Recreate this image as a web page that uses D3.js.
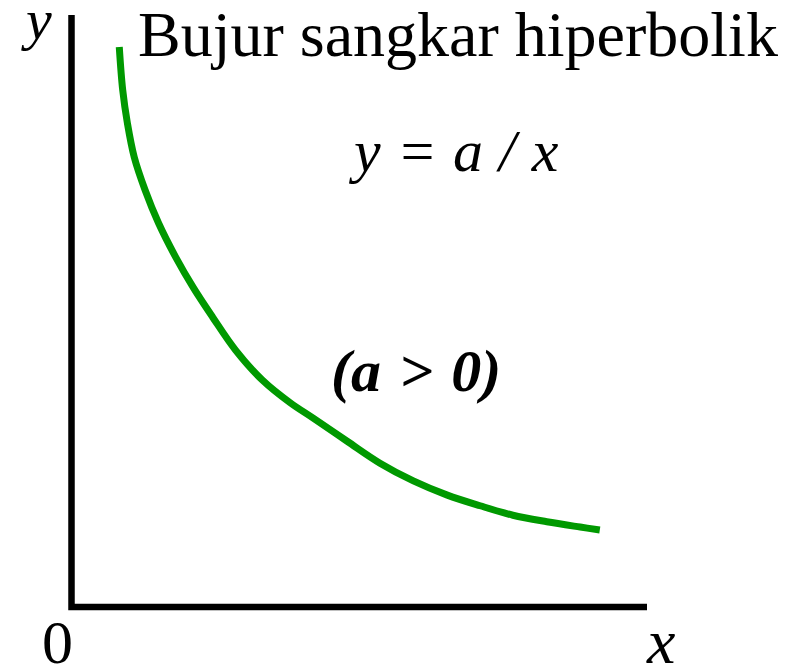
<!DOCTYPE html>
<html>
<head>
<meta charset="utf-8">
<script src="https://cdn.jsdelivr.net/npm/d3@7"></script>
<style>
  html, body { margin: 0; padding: 0; background: #fff; }
  svg { display: block; }
  text { font-family: "Liberation Serif", "Times New Roman", serif; fill: #000; }
</style>
</head>
<body>
<svg id="chart" width="796" height="667"></svg>
<script>
// Hand-traced hyperbola y = a / x (a > 0), in axis units 0..100
const curveX = [8.3, 8.9, 9.7, 10.9, 12.8, 15.1, 18.1, 21.2, 24.5, 28.5, 33.2, 38.0, 42.0, 47.9, 53.6, 59.4, 65.3, 71.0, 76.7, 82.6, 88.4, 91.8];
const curveY = [94.6, 87.3, 81.8, 76.0, 70.4, 64.9, 59.1, 53.9, 49.0, 43.4, 38.3, 34.5, 31.9, 28.0, 24.3, 21.3, 18.9, 17.1, 15.5, 14.4, 13.5, 13.0];

const titleText = "Bujur sangkar hiperbolik";
const equationText = "y = a / x";
const conditionText = "(a > 0)";
const originLabel = "0";
const xLabel = "x";
const yLabel = "y";

const svg = d3.select("#chart");

const x = d3.scaleLinear().domain([0, 100]).range([71.5, 647]);
const y = d3.scaleLinear().domain([0, 100]).range([607, 15]);

// Axes: plain thick lines, no ticks
svg.append("path")
  .attr("d", `M${x(0)},${y(100)} L${x(0)},${y(0)} L${x(100)},${y(0)}`)
  .attr("fill", "none")
  .attr("stroke", "#000")
  .attr("stroke-width", 6.5)
  .attr("stroke-linejoin", "miter");

// The curve
const pts = curveX.map((v, i) => [v, curveY[i]]);
const line = d3.line()
  .x(d => x(d[0]))
  .y(d => y(d[1]))
  .curve(d3.curveCatmullRom.alpha(0.5));

svg.append("path")
  .datum(pts)
  .attr("d", line)
  .attr("fill", "none")
  .attr("stroke", "#009900")
  .attr("stroke-width", 7)
  .attr("stroke-linecap", "butt");

// Labels
svg.append("text")
  .attr("x", 138).attr("y", 56)
  .attr("font-size", 64)
  .text(titleText);

svg.append("text")
  .attr("x", 354).attr("y", 171)
  .attr("font-size", 60)
  .attr("font-style", "italic")
  .attr("word-spacing", 1)
  .text(equationText);

svg.append("text")
  .attr("x", 331).attr("y", 391)
  .attr("font-size", 60)
  .attr("font-style", "italic")
  .attr("font-weight", "bold")
  .attr("word-spacing", 3)
  .text(conditionText);

svg.append("text")
  .attr("x", 26).attr("y", 39)
  .attr("font-size", 58)
  .attr("font-style", "italic")
  .text(yLabel);

svg.append("text")
  .attr("x", 42).attr("y", 663)
  .attr("font-size", 62)
  .text(originLabel);

svg.append("text")
  .attr("x", 647).attr("y", 663)
  .attr("font-size", 64)
  .attr("font-style", "italic")
  .text(xLabel);
</script>
</body>
</html>
